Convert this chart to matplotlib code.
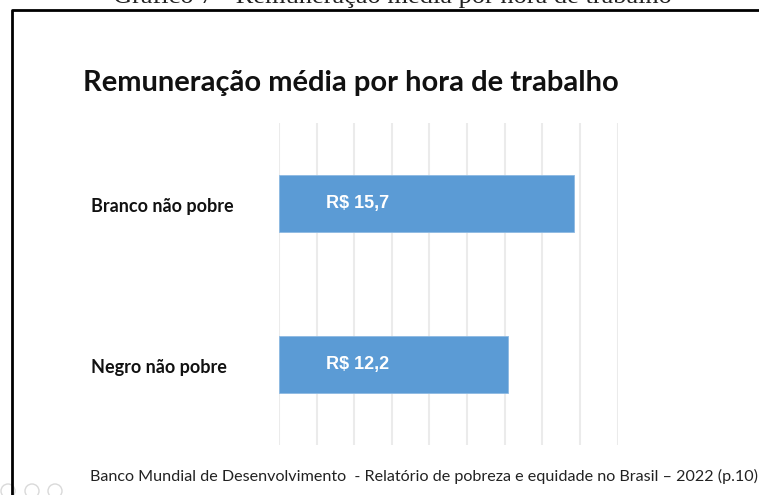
#!/usr/bin/env python3

import matplotlib
matplotlib.use("Agg")
import matplotlib.pyplot as plt
from matplotlib.lines import Line2D
from matplotlib.patches import Ellipse
from matplotlib.transforms import blended_transform_factory

# Data
categories = ["Branco não pobre", "Negro não pobre"]
values = [15.7, 12.2]
value_labels = ["R$ 15,7", "R$ 12,2"]

caption = "Gráfico 7 - Remuneração média por hora de trabalho"
title = "Remuneração média por hora de trabalho"
source = "Banco Mundial de Desenvolvimento  - Relatório de pobreza e equidade no Brasil – 2022 (p.10)"

W, H = 759, 495
fig = plt.figure(figsize=(W / 100, H / 100), dpi=100)
fig.patch.set_facecolor("white")

def fx(px):
    return px / W

def fy(py):
    return 1 - py / H

# Axes placement (pixel coords)
ax = fig.add_axes([fx(279), fy(445), fx(617.5) - fx(279), fy(123) - fy(445)])

ypos = list(range(len(categories)))
ax.barh(ypos, values, height=0.35, color="#5B9BD5", edgecolor="#8dbae3", linewidth=0.6, zorder=3)
ax.set_xlim(0, 18)
ax.set_ylim(1.5, -0.5)
ax.set_xticks(range(0, 19, 2))
ax.set_yticks([])
ax.grid(axis="x", color="#ebebeb", linewidth=1.5, zorder=0)
ax.tick_params(axis="x", length=0, labelbottom=False)
for s in ax.spines.values():
    s.set_visible(False)
ax.set_facecolor("none")

# value labels inside bars
for y, lab in zip(ypos, value_labels):
    ax.text(2.5, y, lab, color="white", fontsize=13, fontweight="bold",
            family="Liberation Sans", ha="left", va="center", zorder=4)

# category labels, left aligned
tr = blended_transform_factory(fig.transFigure, ax.transData)
for y, cat in zip(ypos, categories):
    ax.text(fx(91), y + 0.02, cat, transform=tr, fontsize=13, fontweight="bold",
            family="Lato", ha="left", va="center", color="#111111")

# title
fig.text(fx(83), fy(83), title, fontsize=21, fontweight="bold", family="Lato",
         ha="left", va="center", color="#111111")

# source line
fig.text(fx(90), fy(476), source, fontsize=11.6, family="Lato",
         ha="left", va="center", color="#222222")

# cut-off caption at the very top
fig.text(fx(392), fy(2.7), caption, fontsize=19, family="Liberation Serif",
         ha="center", va="baseline", color="#222222")

# frame lines (left and top)
fig.add_artist(Line2D([fx(12), fx(12), fx(W + 5)], [fy(H + 5), fy(9.5), fy(9.5)],
                      transform=fig.transFigure, color="black", linewidth=2))

# faint toolbar icons in the corner
for cx in [8, 32, 55]:
    fig.add_artist(Ellipse((fx(cx), fy(491)), 14 / W, 14 / H, transform=fig.transFigure,
                           fill=False, edgecolor="#d9d9d9", linewidth=1))

fig.savefig("out.png", dpi=100)
